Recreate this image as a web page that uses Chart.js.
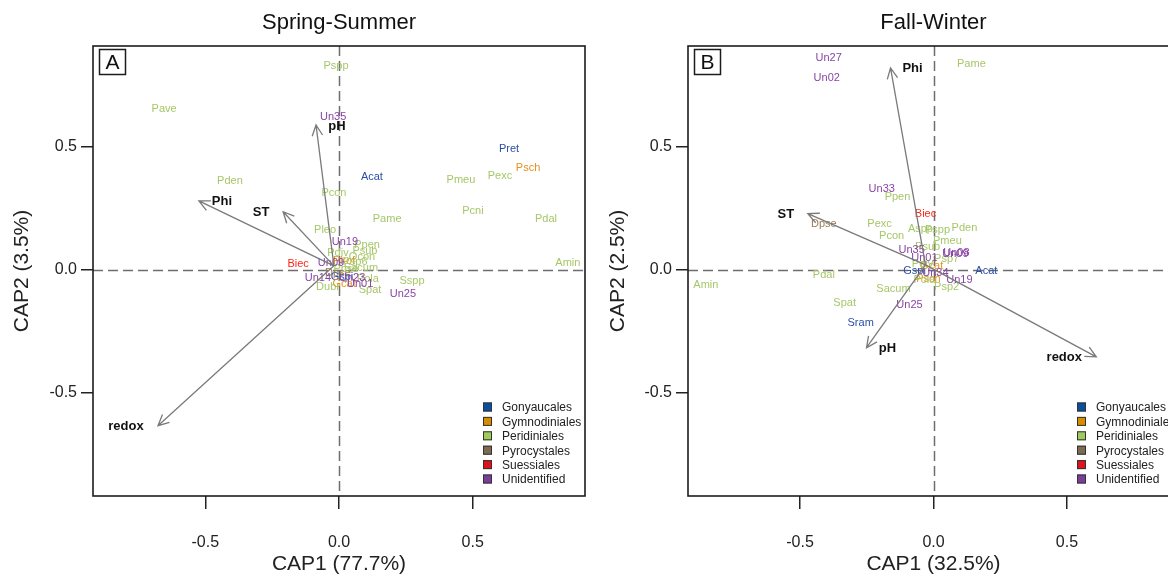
<!DOCTYPE html>
<html>
<head>
<meta charset="utf-8">
<script src="https://cdn.jsdelivr.net/npm/chart.js@4.4.1/dist/chart.umd.min.js"></script>
<style>
  html, body { margin: 0; padding: 0; background: #fff; overflow: hidden; width: 1168px; height: 574px; }
  .panel { position: absolute; top: 0; }
  #wrapA { left: 0; }
  #wrapB { left: 596px; }
</style>
</head>
<body>
<div id="wrapA" class="panel"><canvas id="chartA" width="596" height="574"></canvas></div>
<div id="wrapB" class="panel"><canvas id="chartB" width="600" height="574"></canvas></div>
<script>
// order groups (legend)
var orderNames = ['Gonyaucales', 'Gymnodiniales', 'Peridiniales', 'Pyrocystales', 'Suessiales', 'Unidentified'];
var orderCodes = ['G', 'Y', 'P', 'R', 'S', 'U'];

// Spring-Summer species scores
var speciesA = ['Pspp', 'Pave', 'Un35', 'Pret', 'Psch', 'Acat', 'Pmeu', 'Pexc', 'Pden', 'Pcon',
                'Pcni', 'Pame', 'Pdal', 'Pleo', 'Un19', 'Ppen', 'Psub', 'Pdiv', 'Qcon', 'Pkof',
                'Un09', 'Psp6', 'Biec', 'Ppse', 'Sacum', 'Amin', 'Un14', 'Gspi', 'Un23', 'Pola',
                'Sspp', 'Un01', 'Gcat', 'Dubr', 'Dpse', 'Spat', 'Un25'];
var orderA = ['P', 'P', 'U', 'G', 'Y', 'G', 'P', 'P', 'P', 'P',
              'P', 'P', 'P', 'P', 'U', 'P', 'P', 'P', 'P', 'Y',
              'U', 'P', 'S', 'P', 'P', 'P', 'U', 'G', 'U', 'P',
              'P', 'U', 'Y', 'P', 'R', 'P', 'U'];
var cap1A = [-0.011, -0.654, -0.022, 0.636, 0.707, 0.123, 0.456, 0.602, -0.408, -0.019,
             0.501, 0.180, 0.774, -0.052, 0.022, 0.105, 0.097, -0.004, 0.086, 0.019,
             -0.030, 0.060, -0.153, 0.026, 0.082, 0.856, -0.079, 0.011, 0.049, 0.108,
             0.273, 0.079, 0.019, -0.041, -0.004, 0.116, 0.239];
var cap2A = [0.829, 0.654, 0.622, 0.492, 0.415, 0.378, 0.366, 0.382, 0.362, 0.313,
             0.240, 0.207, 0.207, 0.163, 0.114, 0.102, 0.077, 0.069, 0.053, 0.037,
             0.028, 0.033, 0.024, 0.004, 0.008, 0.028, -0.033, -0.028, -0.033, -0.037,
             -0.045, -0.057, -0.057, -0.069, -0.012, -0.081, -0.098];

// Fall-Winter species scores
var speciesB = ['Un27', 'Un02', 'Pame', 'Un33', 'Ppen', 'Biec', 'Dpse', 'Pexc', 'Pcon', 'Aspp',
                'Pspp', 'Pden', 'Pmeu', 'Psub', 'Un35', 'Un01', 'Psp7', 'Un09', 'Un08', 'Gspi',
                'Gcat', 'Un34', 'Psch', 'Pola', 'Un19', 'Psp2', 'Acat', 'Pdal', 'Amin', 'Sacum',
                'Spat', 'Un25', 'Sram', 'Pdiv'];
var orderB = ['U', 'U', 'P', 'U', 'P', 'S', 'R', 'P', 'P', 'P',
              'P', 'P', 'P', 'P', 'U', 'U', 'P', 'U', 'U', 'G',
              'Y', 'U', 'Y', 'P', 'U', 'P', 'G', 'P', 'P', 'P',
              'P', 'U', 'G', 'P'];
var cap1B = [-0.393, -0.400, 0.142, -0.194, -0.135, -0.030, -0.411, -0.202, -0.157, -0.049,
             0.015, 0.116, 0.052, -0.022, -0.082, -0.034, 0.049, 0.082, 0.086, -0.071,
             -0.007, 0.007, -0.019, -0.034, 0.097, 0.049, 0.198, -0.411, -0.853, -0.150,
             -0.333, -0.090, -0.273, -0.041];
var cap2B = [0.862, 0.780, 0.837, 0.329, 0.297, 0.228, 0.187, 0.187, 0.138, 0.167,
             0.163, 0.171, 0.118, 0.093, 0.081, 0.049, 0.045, 0.065, 0.069, -0.004,
             0.016, -0.012, -0.037, -0.041, -0.041, -0.069, -0.004, -0.020, -0.061, -0.077,
             -0.134, -0.142, -0.215, 0.024];

// environmental vectors
var envNames = ['pH', 'Phi', 'ST', 'redox'];
var envA_x = [-0.086, -0.524, -0.209, -0.677];
var envA_y = [0.589, 0.280, 0.236, -0.634];
var envB_x = [-0.251, -0.161, -0.471, 0.610];
var envB_y = [-0.317, 0.821, 0.228, -0.354];
var envOriginA = [-0.019, 0.016];
var envOriginB = [-0.030, 0.020];

var FONT = '"Liberation Sans", Arial, Helvetica, sans-serif';
var textColors = ['#2b4fa6', '#e8901e', '#a6c768', '#9a7a58', '#ff2418', '#8a45a6'];
var boxColors = ['#0b4e9c', '#d88c00', '#9ecb5c', '#7c6a52', '#e0101c', '#7a3e98'];

function pointsFor(names, orders, xs, ys, code) {
    var out = [];
    for (var i = 0; i < names.length; i++) {
        if (orders[i] === code) out.push({x: xs[i], y: ys[i], name: names[i]});
    }
    return out;
}

var biplot = {
    id: 'biplot',
    beforeDatasetsDraw(chart, args, opts) {
        var ctx = chart.ctx, a = chart.chartArea;
        var x0 = Math.round(chart.scales.x.getPixelForValue(0)) + 0.5;
        var y0 = Math.round(chart.scales.y.getPixelForValue(0)) + 0.5;
        ctx.save();
        ctx.strokeStyle = '#6e6e6e';
        ctx.lineWidth = 1.5;
        ctx.setLineDash([10, 5]);
        ctx.beginPath();
        ctx.moveTo(x0, a.top); ctx.lineTo(x0, a.bottom);
        ctx.moveTo(a.left, y0); ctx.lineTo(a.right, y0);
        ctx.stroke();
        ctx.restore();
    },
    afterDatasetsDraw(chart, args, opts) {
        var ctx = chart.ctx, a = chart.chartArea;
        var sx = chart.scales.x, sy = chart.scales.y;
        ctx.save();

        // species names at their scores
        ctx.font = '11px ' + FONT;
        ctx.textAlign = 'center';
        ctx.textBaseline = 'middle';
        chart.data.datasets.forEach(function (ds, di) {
            var meta = chart.getDatasetMeta(di);
            ctx.fillStyle = ds.textColor;
            meta.data.forEach(function (el, i) {
                ctx.fillText(ds.data[i].name, el.x, el.y);
            });
        });

        // env arrows
        var ox = sx.getPixelForValue(opts.origin[0]);
        var oy = sy.getPixelForValue(opts.origin[1]);
        ctx.strokeStyle = '#7a7a7a';
        ctx.lineWidth = 1.3;
        for (var k = 0; k < envNames.length; k++) {
            var tx = sx.getPixelForValue(opts.envX[k]);
            var ty = sy.getPixelForValue(opts.envY[k]);
            var ang = Math.atan2(ty - oy, tx - ox);
            var hl = 12, ha = Math.PI / 7;
            ctx.beginPath();
            ctx.moveTo(ox, oy); ctx.lineTo(tx, ty);
            ctx.moveTo(tx - hl * Math.cos(ang - ha), ty - hl * Math.sin(ang - ha));
            ctx.lineTo(tx, ty);
            ctx.lineTo(tx - hl * Math.cos(ang + ha), ty - hl * Math.sin(ang + ha));
            ctx.stroke();
        }
        ctx.fillStyle = '#111';
        ctx.font = 'bold 13px ' + FONT;
        for (k = 0; k < envNames.length; k++) {
            ctx.fillText(envNames[k],
                sx.getPixelForValue(opts.envX[k]) + opts.labelDx[k],
                sy.getPixelForValue(opts.envY[k]) + 1);
        }

        // frame
        ctx.strokeStyle = '#1c1c1c';
        ctx.lineWidth = 1.6;
        ctx.strokeRect(a.left, a.top, a.right - a.left, a.bottom - a.top);

        // panel tag
        ctx.lineWidth = 1.5;
        ctx.strokeRect(a.left + 6.5, a.top + 3.5, 26, 25);
        ctx.fillStyle = '#111';
        ctx.font = '21px ' + FONT;
        ctx.fillText(opts.tag, a.left + 19.5, a.top + 17);

        // title
        ctx.font = '22px ' + FONT;
        ctx.fillText(opts.title, (a.left + a.right) / 2, 23);

        // legend
        ctx.font = '12px ' + FONT;
        ctx.textAlign = 'left';
        ctx.lineWidth = 1;
        ctx.strokeStyle = '#333';
        for (var i = 0; i < orderNames.length; i++) {
            var ly = a.bottom - 89 + i * 14.4;
            var lx = a.right - 102;
            ctx.fillStyle = boxColors[i];
            ctx.fillRect(lx, ly - 4.5, 9, 9);
            ctx.strokeRect(lx + 0.5, ly - 4, 8, 8);
            ctx.fillStyle = '#222';
            ctx.fillText(orderNames[i], lx + 19, ly + 1);
        }
        ctx.restore();
    }
};

function buildChart(id, cfg) {
    var datasets = orderCodes.map(function (code, k) {
        return {
            label: orderNames[k],
            data: pointsFor(cfg.names, cfg.orders, cfg.xs, cfg.ys, code),
            pointRadius: 0,
            pointHoverRadius: 0,
            textColor: textColors[k]
        };
    });
    return new Chart(document.getElementById(id), {
        type: 'scatter',
        data: {datasets: datasets},
        options: {
            responsive: false,
            animation: false,
            events: [],
            layout: {padding: {left: 0, right: cfg.padRight, top: 46, bottom: 0}},
            plugins: {
                legend: {display: false},
                tooltip: {enabled: false},
                biplot: cfg
            },
            scales: {
                x: {
                    type: 'linear', position: 'bottom', min: -0.92, max: 0.92,
                    ticks: {
                        stepSize: 0.5, includeBounds: false, maxRotation: 0, padding: 24,
                        color: '#222', font: {size: 16, family: FONT},
                        callback: function (v) { return v.toFixed(1); }
                    },
                    grid: {drawOnChartArea: false, drawTicks: true, tickLength: 13, color: '#222', lineWidth: 1.5},
                    border: {display: false},
                    title: {display: true, text: cfg.xTitle, color: '#222', font: {size: 21, family: FONT}, padding: {top: 0, bottom: -3}},
                    afterFit: function (s) { s.height = 78; }
                },
                y: {
                    type: 'linear', position: 'left', min: -0.92, max: 0.91,
                    ticks: {
                        stepSize: 0.5, includeBounds: false, padding: 4,
                        color: '#222', font: {size: 16, family: FONT},
                        callback: function (v) { return v.toFixed(1); }
                    },
                    grid: {drawOnChartArea: false, drawTicks: true, tickLength: 12, color: '#222', lineWidth: 1.5},
                    border: {display: false},
                    title: {display: true, text: cfg.yTitle, color: '#222', font: {size: 21, family: FONT}, padding: {top: 10, bottom: 0}},
                    afterFit: function (s) { s.width = cfg.yWidth; }
                }
            }
        },
        plugins: [biplot]
    });
}

buildChart('chartA', {
    title: 'Spring-Summer', tag: 'A', xTitle: 'CAP1 (77.7%)', yTitle: 'CAP2 (3.5%)',
    names: speciesA, orders: orderA, xs: cap1A, ys: cap2A,
    envX: envA_x, envY: envA_y, origin: envOriginA,
    labelDx: [21, 23, -22, -32],
    yWidth: 93, padRight: 11
});

buildChart('chartB', {
    title: 'Fall-Winter', tag: 'B', xTitle: 'CAP1 (32.5%)', yTitle: 'CAP2 (2.5%)',
    names: speciesB, orders: orderB, xs: cap1B, ys: cap2B,
    envX: envB_x, envY: envB_y, origin: envOriginB,
    labelDx: [21, 22, -22, -32],
    yWidth: 92, padRight: 17
});
</script>
</body>
</html>
